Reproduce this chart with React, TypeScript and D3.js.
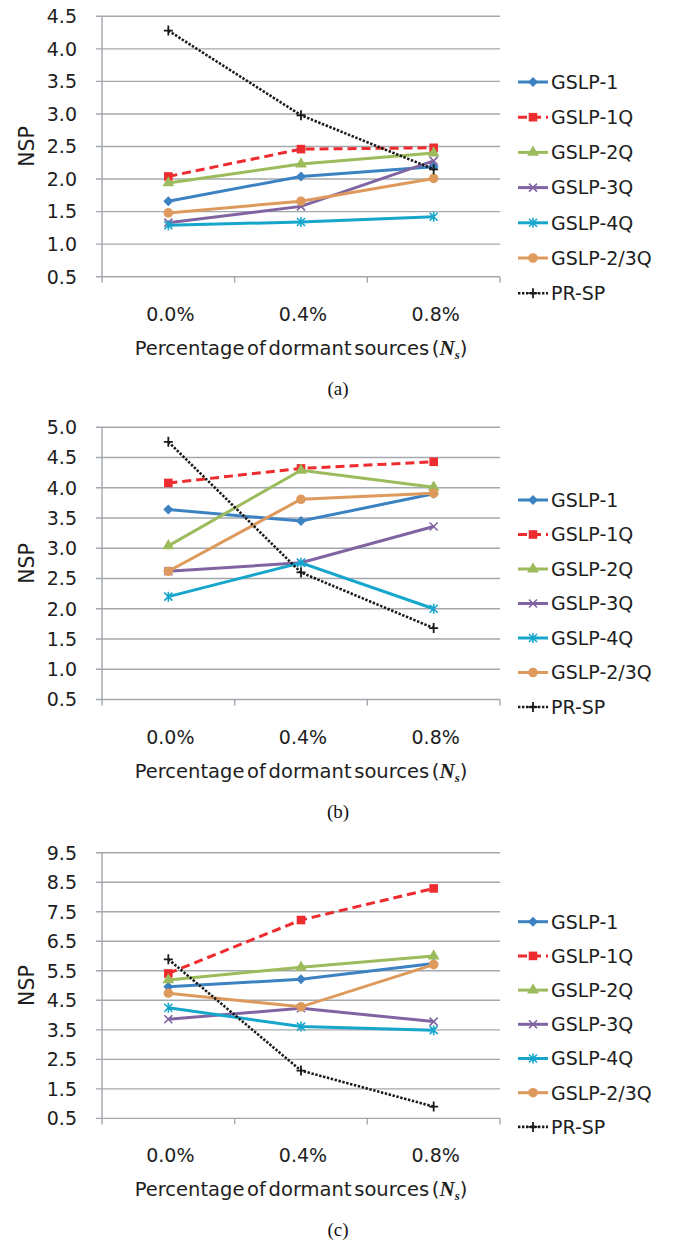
import React from 'react';
import * as d3 from 'd3';

// Categories on the x axis (share of dormant sources)
const categories = ['0.0%', '0.4%', '0.8%'];
const seriesNames = ['GSLP-1', 'GSLP-1Q', 'GSLP-2Q', 'GSLP-3Q', 'GSLP-4Q', 'GSLP-2/3Q', 'PR-SP'];

// Panel (a)
const aGslp1 = [1.66, 2.04, 2.19];
const aGslp1Q = [2.04, 2.46, 2.48];
const aGslp2Q = [1.94, 2.23, 2.40];
const aGslp3Q = [1.33, 1.58, 2.28];
const aGslp4Q = [1.29, 1.34, 1.42];
const aGslp23Q = [1.48, 1.66, 2.01];
const aPrSp = [4.28, 2.98, 2.15];
const aTicks = [0.5, 1.0, 1.5, 2.0, 2.5, 3.0, 3.5, 4.0, 4.5];

// Panel (b)
const bGslp1 = [3.64, 3.45, 3.90];
const bGslp1Q = [4.08, 4.32, 4.43];
const bGslp2Q = [3.04, 4.29, 4.01];
const bGslp3Q = [2.62, 2.76, 3.36];
const bGslp4Q = [2.20, 2.76, 2.00];
const bGslp23Q = [2.62, 3.81, 3.91];
const bPrSp = [4.76, 2.60, 1.68];
const bTicks = [0.5, 1.0, 1.5, 2.0, 2.5, 3.0, 3.5, 4.0, 4.5, 5.0];

// Panel (c)
const cGslp1 = [4.96, 5.21, 5.75];
const cGslp1Q = [5.41, 7.22, 8.29];
const cGslp2Q = [5.19, 5.62, 6.00];
const cGslp3Q = [3.86, 4.23, 3.78];
const cGslp4Q = [4.25, 3.61, 3.49];
const cGslp23Q = [4.74, 4.28, 5.71];
const cPrSp = [5.89, 2.12, 0.90];
const cTicks = [0.5, 1.5, 2.5, 3.5, 4.5, 5.5, 6.5, 7.5, 8.5, 9.5];

const FONT = "'DejaVu Sans', 'Open Sans', sans-serif";
const SERIF = "'Liberation Serif', 'Times New Roman', serif";
const GRID = '#a3a8ae';
const INK = '#1e1e1e';
const LABEL_SIZE = 19;

type Style = { color: string; dash?: string; width: number; marker: string };
const styles: Style[] = [
  { color: '#3c82c3', width: 3, marker: 'diamond' },
  { color: '#ee2b2e', width: 3, dash: '9 5', marker: 'square' },
  { color: '#9bbb5c', width: 3, marker: 'triangle' },
  { color: '#8064a2', width: 3, marker: 'x' },
  { color: '#16a6cc', width: 3, marker: 'asterisk' },
  { color: '#de9a5c', width: 3, marker: 'circle' },
  { color: '#1a1a1a', width: 2.6, dash: '2.4 1.6', marker: 'plus' },
];

function Marker({ kind, x, y, color }: { kind: string; x: number; y: number; color: string }) {
  const t = `translate(${x},${y})`;
  switch (kind) {
    case 'diamond':
      return <path transform={t} d="M0,-5L5,0L0,5L-5,0Z" fill={color} />;
    case 'square':
      return <rect x={x - 4.3} y={y - 4.3} width={8.6} height={8.6} fill={color} />;
    case 'triangle':
      return <path transform={t} d={d3.symbol(d3.symbolTriangle, 60)() || ''} fill={color} />;
    case 'circle':
      return <circle cx={x} cy={y} r={4.8} fill={color} />;
    case 'x':
      return <path transform={t} d="M-4,-4L4,4M-4,4L4,-4" stroke={color} strokeWidth={1.6} fill="none" />;
    case 'asterisk':
      return <path transform={t} d="M-4,-4L4,4M-4,4L4,-4M0,-5L0,5" stroke={color} strokeWidth={1.6} fill="none" />;
    case 'plus':
      return <path transform={t} d="M-4.5,0L4.5,0M0,-5L0,5" stroke={color} strokeWidth={1.8} fill="none" />;
    default:
      return null;
  }
}

type PanelProps = {
  series: number[][];
  ticks: number[];
  top: number;
  bottom: number;
  legendTop: number;
  legendStep: number;
  caption: string;
};

const X0 = 102;
const X1 = 500;

function Panel({ series, ticks, top, bottom, legendTop, legendStep, caption }: PanelProps) {
  const x = d3.scaleBand<string>().domain(categories).range([X0, X1]).padding(0);
  const y = d3.scaleLinear().domain([ticks[0], ticks[ticks.length - 1]]).range([bottom, top]);
  const cx = (c: string) => (x(c) as number) + x.bandwidth() / 2;
  const line = d3
    .line<number>()
    .x((_, i) => cx(categories[i]))
    .y((v) => y(v));
  const fmt = d3.format('.1f');
  const midX = (X0 + X1) / 2;
  const boundaries = [X0, ...categories.map((c) => (x(c) as number) + x.bandwidth())];

  return (
    <g>
      {ticks.map((t) => (
        <g key={t}>
          <line x1={X0 - 6} x2={X1} y1={y(t)} y2={y(t)} stroke={GRID} strokeWidth={1.4} />
          <text x={77} y={y(t)} dy="0.36em" textAnchor="end" fontSize={LABEL_SIZE} fontFamily={FONT} fill={INK}>
            {fmt(t)}
          </text>
        </g>
      ))}
      <line x1={X0} x2={X0} y1={top} y2={bottom} stroke={GRID} strokeWidth={1.4} />
      {boundaries.map((b, i) => (
        <line key={i} x1={b} x2={b} y1={bottom} y2={bottom + 6} stroke={GRID} strokeWidth={1.4} />
      ))}
      {categories.map((c) => (
        <text key={c} x={cx(c) + 2} y={bottom + 44} textAnchor="middle" fontSize={LABEL_SIZE} fontFamily={FONT} fill={INK}>
          {c}
        </text>
      ))}
      <text
        transform={`translate(27,${(top + bottom) / 2}) rotate(-90)`}
        dy="0.36em"
        textAnchor="middle"
        fontSize={20.5}
        fontFamily={FONT}
        fill={INK}
      >
        NSP
      </text>
      <text x={midX} y={bottom + 78} textAnchor="middle" fontSize={19.5} fontFamily={FONT} fill={INK} wordSpacing={-3.5}>
        Percentage of dormant sources (
        <tspan fontFamily={SERIF} fontStyle="italic" fontWeight="bold" fontSize={21}>N</tspan>
        <tspan fontFamily={SERIF} fontStyle="italic" fontWeight="bold" fontSize={13} dy={4}>
          s
        </tspan>
        <tspan dy={-4}>)</tspan>
      </text>
      <text x={338} y={bottom + 118} textAnchor="middle" fontSize={19} fontFamily={SERIF} fill="#111">
        {caption}
      </text>

      {series.map((vals, si) => {
        const s = styles[si];
        return (
          <g key={si}>
            <path d={line(vals) || ''} fill="none" stroke={s.color} strokeWidth={s.width} strokeDasharray={s.dash} />
            {vals.map((v, i) => (
              <Marker key={i} kind={s.marker} x={cx(categories[i])} y={y(v)} color={s.color} />
            ))}
          </g>
        );
      })}

      {seriesNames.map((name, i) => {
        const s = styles[i];
        const ly = legendTop + i * legendStep;
        return (
          <g key={name}>
            <line x1={518} x2={548} y1={ly} y2={ly} stroke={s.color} strokeWidth={s.width} strokeDasharray={s.dash} />
            <Marker kind={s.marker} x={533} y={ly} color={s.color} />
            <text x={551} y={ly} dy="0.36em" fontSize={LABEL_SIZE} fontFamily={FONT} fill={INK}>
              {name}
            </text>
          </g>
        );
      })}
    </g>
  );
}

export default function App() {
  return (
    <svg
      width={677}
      height={1247}
      viewBox="0 0 677 1247"
      style={{ position: 'absolute', left: 0, top: 0, background: '#fff' }}
    >
      <rect width={677} height={1247} fill="#fff" />
      <Panel
        series={[aGslp1, aGslp1Q, aGslp2Q, aGslp3Q, aGslp4Q, aGslp23Q, aPrSp]}
        ticks={aTicks}
        top={16.3}
        bottom={276.7}
        legendTop={82}
        legendStep={35.2}
        caption="(a)"
      />
      <Panel
        series={[bGslp1, bGslp1Q, bGslp2Q, bGslp3Q, bGslp4Q, bGslp23Q, bPrSp]}
        ticks={bTicks}
        top={427.3}
        bottom={699.5}
        legendTop={500}
        legendStep={34.5}
        caption="(b)"
      />
      <Panel
        series={[cGslp1, cGslp1Q, cGslp2Q, cGslp3Q, cGslp4Q, cGslp23Q, cPrSp]}
        ticks={cTicks}
        top={852.7}
        bottom={1118.4}
        legendTop={921.7}
        legendStep={34.2}
        caption="(c)"
      />
    </svg>
  );
}
